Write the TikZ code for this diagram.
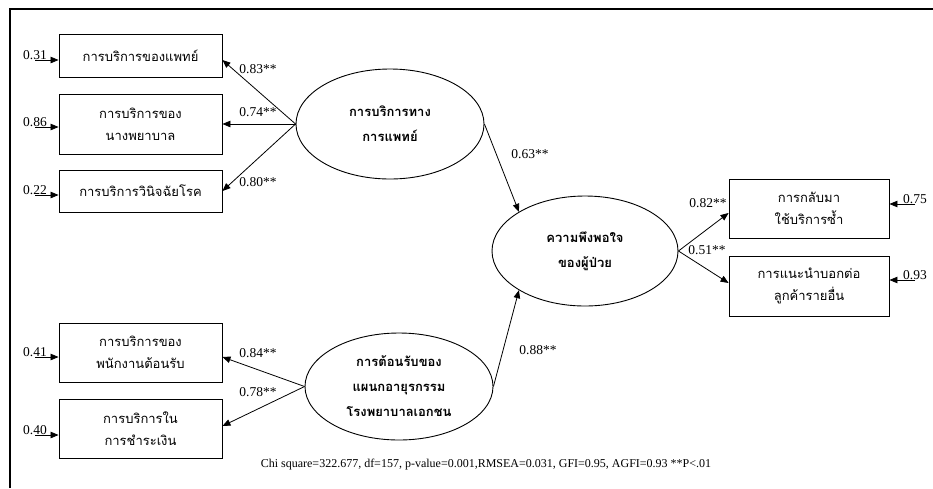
\documentclass[tikz,border=0pt]{standalone}
\usepackage{fontspec}
\setmainfont{Liberation Serif}
\newfontfamily\thaifont[Script=Thai]{Loma}
\usetikzlibrary{shapes.geometric,arrows.meta}

\tikzset{
  obs/.style={draw, line width=0.9pt, minimum width=163pt, align=center, inner sep=0pt,
    font=\thaifont\fontsize{13}{22}\selectfont},
  lat/.style={draw, ellipse, line width=0.9pt, minimum width=188pt, minimum height=110pt,
    align=center, inner sep=0pt, font=\thaifont\bfseries\fontsize{13}{25}\selectfont},
  conn/.style={line width=0.8pt, -{Triangle[length=8pt,width=6.5pt]}},
  coef/.style={font=\fontsize{13.5}{15}\selectfont, inner sep=0pt}
}

\begin{document}
\begin{tikzpicture}[x=1pt,y=-1pt]
  \useasboundingbox (0,0) rectangle (933,488);
  \draw[line width=1.6pt] (10,488) -- (10,9) -- (933,9);

  \node[obs, minimum height=43pt] (b1) at (140.5,55.5) {การบริการของแพทย์};
  \node[obs, minimum height=60pt] (b2) at (140.5,124) {การบริการของ\\นางพยาบาล};
  \node[obs, minimum height=42pt] (b3) at (140.5,191) {การบริการวินิจฉัยโรค};
  \node[obs, minimum height=59pt] (b4) at (140.5,352.5) {การบริการของ\\พนักงานต้อนรับ};
  \node[obs, minimum height=59pt] (b5) at (140.5,428.5) {การบริการใน\\การชำระเงิน};
  \node[obs, minimum width=160pt, minimum height=59pt] (b6) at (809,208.5) {การกลับมา\\ใช้บริการซ้ำ};
  \node[obs, minimum width=160pt, minimum height=60pt] (b7) at (809,286) {การแนะนำบอกต่อ\\ลูกค้ารายอื่น};

  \node[lat] (med) at (390,124) {การบริการทาง\\การแพทย์};
  \node[lat, minimum height=107pt] (rec) at (399,386.5) {การต้อนรับของ\\แผนกอายุรกรรม\\โรงพยาบาลเอกชน};
  \node[lat, minimum width=186pt] (sat) at (585,251) {ความพึงพอใจ\\ของผู้ป่วย};

  \coordinate[label={[coef]above:0.31}] (d1) at (35,60);
  \coordinate[label={[coef]above:0.86}] (d2) at (35,127);
  \coordinate[label={[coef]above:0.22}] (d3) at (35,195);
  \coordinate[label={[coef]above:0.41}] (d4) at (35,357);
  \coordinate[label={[coef]above:0.40}] (d5) at (35,435);
  \coordinate[label={[coef]above:0.75}] (d6) at (915,204);
  \coordinate[label={[coef]above:0.93}] (d7) at (915,280);

  \draw[conn] (d1) -- (d1 -| b1.west);
  \draw[conn] (d2) -- (d2 -| b2.west);
  \draw[conn] (d3) -- (d3 -| b3.west);
  \draw[conn] (d4) -- (d4 -| b4.west);
  \draw[conn] (d5) -- (d5 -| b5.west);
  \draw[conn] (d6) -- (d6 -| b6.east);
  \draw[conn] (d7) -- (d7 -| b7.east);

  \draw[conn] (med.west) -- ([yshift=-4.5pt]b1.east);
  \draw[conn] (med.west) -- (b2.east);
  \draw[conn] (med.west) -- (b3.east);
  \draw[conn] (rec.west) -- ([yshift=-4.5pt]b4.east);
  \draw[conn] (rec.west) -- ([yshift=2.5pt]b5.east);
  \draw[conn] (sat.east) -- ([yshift=-4.5pt]b6.west);
  \draw[conn] (sat.east) -- ([yshift=3pt]b7.west);
  \draw[conn] (med.east) -- (sat.north west);
  \draw[conn] (rec.east) -- (sat.south west);

  \node[coef] (l1) at (258,69) {0.83**};
  \node[coef] (l2) at (258,112) {0.74**};
  \node[coef] (l3) at (258,182) {0.80**};
  \node[coef] (l4) at (258,353) {0.84**};
  \node[coef] (l5) at (258,392) {0.78**};
  \node[coef] (l6) at (530,154) {0.63**};
  \node[coef] (l7) at (538,350) {0.88**};
  \node[coef] (l8) at (708,203) {0.82**};
  \node[coef] (l9) at (707,250) {0.51**};

  \node[font=\fontsize{12}{14}\selectfont] (fit) at (486,465)
    {Chi square=322.677, df=157, p-value=0.001,RMSEA=0.031, GFI=0.95, AGFI=0.93 **P<.01};
\end{tikzpicture}
\end{document}
